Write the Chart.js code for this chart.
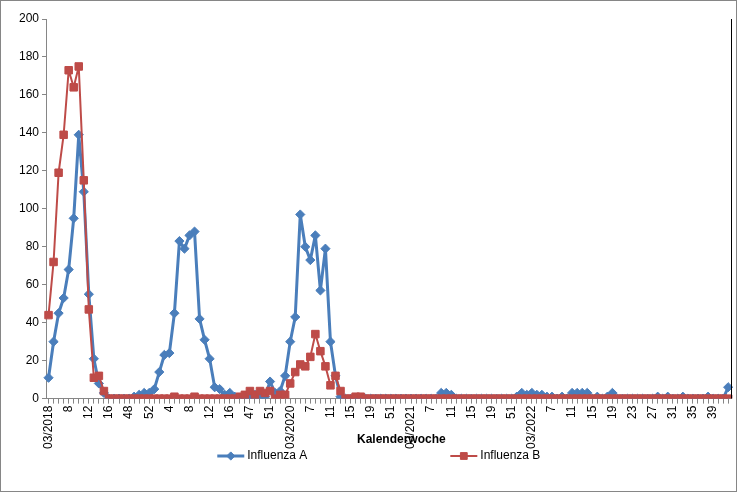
<!DOCTYPE html>
<html lang="de">
<head>
    <meta charset="UTF-8">
    <title>Influenza A / B je Kalenderwoche</title>
    <style>
        body { margin: 0; padding: 0; background: #fff; }
        #wrap { width: 737px; height: 492px; position: relative; }
    </style>
</head>
<body>
    <div id="wrap">
        <canvas id="fluChart" width="737" height="492"></canvas>
    </div>
    <script src="https://cdn.jsdelivr.net/npm/chart.js"></script>
    <script>
    // Kalenderwochen (x-Achse), jede 4. wird beschriftet
    const weeks = [
        '03/2018','5','6','7','8','9','10','11','12','13','14','15','16',
        '45','46','47','48','49','50','51','52',
        '1','2','3','4','5','6','7','8','9','10','11','12','13','14','15','16',
        '44','45','46','47','48','49','50','51','52','1','2',
        '03/2020','4','5','6','7','8','9','10','11','12','13','14','15','16','17','18','19',
        '48','49','50','51','52','1','2',
        '03/2021','4','5','6','7','8','9','10','11','12','13','14','15','16','17','18','19',
        '48','49','50','51','52','1','2',
        '03/2022','4','5','6','7','8','9','10','11','12','13','14','15','16','17','18','19',
        '20','21','22','23','24','25','26','27','28','29','30','31','32','33','34','35',
        '36','37','38','39','40','41','42'
    ];

    const influenzaA = [
        11, 30, 45, 53, 68, 95, 139, 109, 55, 21,
        8, 3, 0, 0, 0, 0, 0, 1, 2, 3,
        3, 5, 14, 23, 24, 45, 83, 79, 86, 88,
        42, 31, 21, 6, 5, 2, 3, 1, 0, 1,
        0, 2, 1, 1, 9, 3, 4, 12, 30, 43,
        97, 80, 73, 86, 57, 79, 30, 12, 1, 0,
        0, 0, 0, 0, 0, 0, 0, 0, 0, 0,
        0, 0, 0, 0, 0, 0, 0, 0, 3, 3,
        2, 0, 0, 0, 0, 0, 0, 0, 0, 0,
        0, 0, 0, 1, 3, 2, 3, 2, 2, 1,
        1, 0, 1, 0, 3, 3, 3, 3, 0, 1,
        0, 1, 3, 0, 0, 0, 0, 0, 0, 0,
        0, 1, 0, 1, 0, 0, 1, 0, 0, 0,
        0, 1, 0, 0, 0, 6
    ];

    const influenzaB = [
        44, 72, 119, 139, 173, 164, 175, 115, 47, 11,
        12, 4, 0, 0, 0, 0, 0, 0, 0, 0,
        0, 0, 0, 0, 0, 1, 0, 0, 0, 1,
        0, 0, 0, 0, 0, 0, 0, 0, 1, 2,
        4, 2, 4, 3, 4, 0, 2, 2, 8, 14,
        18, 17, 22, 34, 25, 17, 7, 12, 4, 0,
        0, 1, 1, 0, 0, 0, 0, 0, 0, 0,
        0, 0, 0, 0, 0, 0, 0, 0, 0, 0,
        0, 0, 0, 0, 0, 0, 0, 0, 0, 0,
        0, 0, 0, 0, 0, 0, 0, 0, 0, 0,
        0, 0, 0, 0, 0, 0, 0, 0, 0, 0,
        0, 0, 0, 0, 0, 0, 0, 0, 0, 0,
        0, 0, 0, 0, 0, 0, 0, 0, 0, 0,
        0, 0, 0, 0, 0, 0
    ];

    const yTicks = [0, 20, 40, 60, 80, 100, 120, 140, 160, 180, 200];
    const xTitle = 'Kalenderwoche';

    const FONT = "'Liberation Sans', Arial, sans-serif";
    const AXIS_GREY = '#868686';

    // Rahmen, rechte Linie, Achsentitel und Legende wie in Excel
    const excelLook = {
        id: 'excelLook',
        afterDraw(chart) {
            const ctx = chart.ctx;
            const area = chart.chartArea;
            ctx.save();
            // rechte Begrenzung der Zeichenfläche
            ctx.strokeStyle = '#000';
            ctx.lineWidth = 1;
            ctx.beginPath();
            ctx.moveTo(Math.round(area.right) + 0.5, area.top);
            ctx.lineTo(Math.round(area.right) + 0.5, area.bottom);
            ctx.stroke();
            // Diagrammrahmen
            ctx.strokeStyle = AXIS_GREY;
            ctx.strokeRect(0.5, 0.5, chart.width - 1, chart.height - 1);

            // Achsentitel (liegt zwischen den gedrehten Beschriftungen)
            ctx.font = 'bold 12px ' + FONT;
            ctx.fillStyle = '#000';
            ctx.textAlign = 'center';
            ctx.textBaseline = 'middle';
            ctx.fillText(xTitle, (area.left + area.right) / 2 + 13, area.bottom + 41);

            // Legende
            ctx.font = '12px ' + FONT;
            ctx.textAlign = 'left';
            const lineLen = 27, gapText = 3, gapItems = 143;
            const items = chart.data.datasets.map(ds => ({
                ds, w: lineLen + gapText + ctx.measureText(ds.label).width
            }));
            const total = items.reduce((s, it) => s + it.w, 0) + gapItems * (items.length - 1);
            let x = chart.width * 0.514 - total / 2;
            const y = 456;
            items.forEach(it => {
                const ds = it.ds;
                ctx.strokeStyle = ds.borderColor;
                ctx.lineWidth = ds.borderWidth;
                ctx.beginPath();
                ctx.moveTo(x, y);
                ctx.lineTo(x + lineLen, y);
                ctx.stroke();
                ctx.fillStyle = ds.backgroundColor;
                ctx.strokeStyle = ds.borderColor;
                ctx.lineWidth = 1;
                Chart.helpers.drawPoint(ctx, {
                    pointStyle: ds.pointStyle, radius: ds.pointRadius - 0.5, borderWidth: 1
                }, x + lineLen / 2, y);
                ctx.fillStyle = '#000';
                ctx.fillText(ds.label, x + lineLen + gapText, y);
                x += it.w + gapItems;
            });
            ctx.restore();
        }
    };

    const ctx = document.getElementById('fluChart').getContext('2d');
    const fluChart = new Chart(ctx, {
        type: 'line',
        data: {
            labels: weeks,
            datasets: [
                {
                    label: 'Influenza A',
                    data: influenzaA,
                    borderColor: '#4A7EBB',
                    backgroundColor: '#4A7EBB',
                    borderWidth: 3,
                    borderJoinStyle: 'round',
                    pointStyle: 'rectRot',
                    pointRadius: 4.6,
                    pointBorderWidth: 1,
                    tension: 0,
                    order: 2
                },
                {
                    label: 'Influenza B',
                    data: influenzaB,
                    borderColor: '#BE4B48',
                    backgroundColor: '#BE4B48',
                    borderWidth: 2,
                    borderJoinStyle: 'round',
                    pointStyle: 'rect',
                    pointRadius: 5.3,
                    pointBorderWidth: 1,
                    tension: 0,
                    order: 1
                }
            ]
        },
        options: {
            responsive: false,
            animation: false,
            devicePixelRatio: 1,
            layout: { padding: { left: 16, top: 19, right: 5, bottom: 41 } },
            plugins: {
                legend: { display: false },
                title: { display: false },
                tooltip: { enabled: false }
            },
            scales: {
                x: {
                    type: 'category',
                    offset: true,
                    afterFit: scale => { scale.paddingRight = 0; },
                    grid: {
                        display: true,
                        drawOnChartArea: false,
                        drawTicks: true,
                        tickLength: 5,
                        color: AXIS_GREY
                    },
                    border: { display: true, color: AXIS_GREY },
                    ticks: {
                        autoSkip: false,
                        minRotation: 90,
                        maxRotation: 90,
                        padding: 2,
                        color: '#000',
                        font: { family: FONT, size: 12 },
                        callback: (v, i) => (i % 4 === 0 ? weeks[i] : '')
                    }
                },
                y: {
                    min: 0,
                    max: 200,
                    afterBuildTicks: axis => { axis.ticks = yTicks.map(v => ({ value: v })); },
                    grid: {
                        display: true,
                        drawOnChartArea: false,
                        drawTicks: true,
                        tickLength: 4,
                        color: AXIS_GREY
                    },
                    border: { display: true, color: AXIS_GREY },
                    ticks: {
                        padding: 3,
                        color: '#000',
                        font: { family: FONT, size: 12 }
                    }
                }
            }
        },
        plugins: [excelLook]
    });
    </script>
</body>
</html>
